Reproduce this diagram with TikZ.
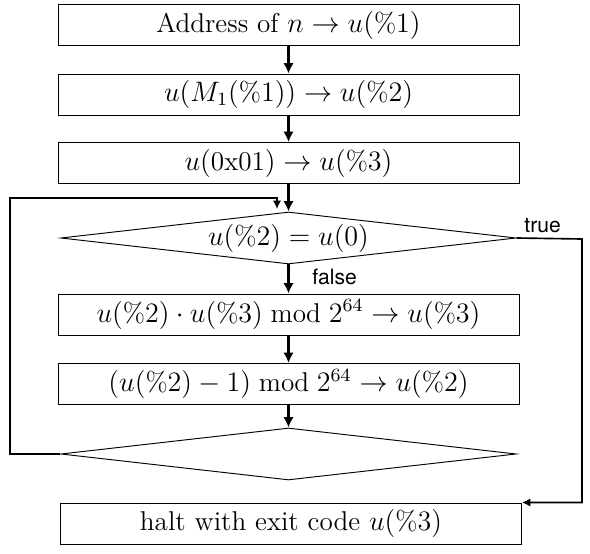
\documentclass[tikz,border=0pt]{standalone}
\usepackage{amsmath}
\usepackage{fontspec}
\newfontfamily\lblfont{TeX Gyre Heros}
\usepackage{tikz}
\usetikzlibrary{arrows,arrows.meta,calc,positioning,shapes.geometric}
\tikzset{%
	process/.style  = {draw, rectangle, minimum width=6.915cm, minimum height=0.615cm, inner sep=0pt, text centered, font=\fontsize{11.6}{14}\selectfont},
	decision/.style = {draw, diamond, aspect=9, minimum width=6.83cm, minimum height=0.78cm, inner sep=0pt, text centered, font=\fontsize{11.6}{14}\selectfont},
	arrow/.style    = {line width=1pt,-{Latex[length=4.4pt,width=4.4pt]}},
	backline/.style = {line width=0.7pt,-{Latex[length=3.6pt,width=3.6pt]}},
	branch/.style   = {font=\lblfont\fontsize{9}{11}\selectfont, inner sep=0pt},
}

\begin{document}
\begin{tikzpicture}[x=0.015cm,y=-0.015cm]
		\useasboundingbox (0,0) rectangle (590,554);
		\node[process] (addr) at (288.5,25) {Address of $n \to u(\%1)$};
		\node[process] (load) at (288.5,94.5) {$u(M_1(\%1)) \to u(\%2)$};
		\node[process] (init) at (288.5,163) {$u(\mathrm{0x01}) \to u(\%3)$};
		\node[decision] (test) at (288.5,238) {$u(\%2) = u(0)$};
		\node[process] (mult) at (288.5,314.5) {$u(\%2) \cdot u(\%3) \bmod 2^{64} \to u(\%3)$};
		\node[process] (decr) at (288.5,384) {$(u(\%2) - 1) \bmod 2^{64} \to u(\%2)$};
		\node[decision] (join) at (288.5,454) {};
		\node[process] (halt) at (291,523.5) {halt with exit code $u(\%3)$};
		\node[branch, anchor=west] (truelbl) at (524,226) {true};
		\node[branch, anchor=west] (falselbl) at (312,277) {false};
		\coordinate (back) at (10,198);
		\coordinate (entry) at (277,209);
		\coordinate (side) at (582,239);
		\draw[arrow] (addr) -- (load);
		\draw[arrow] (load) -- (init);
		\draw[arrow] (init) -- (test);
		\draw[arrow] (test) -- (mult);
		\draw[arrow] (mult) -- (decr);
		\draw[arrow] (decr) -- (join);
		\draw[backline] (join.west) -| (back) -- (back -| entry) -- (entry);
		\draw[backline] (test.east) -- (side) |- (halt.north east);
		\end{tikzpicture}
\end{document}
